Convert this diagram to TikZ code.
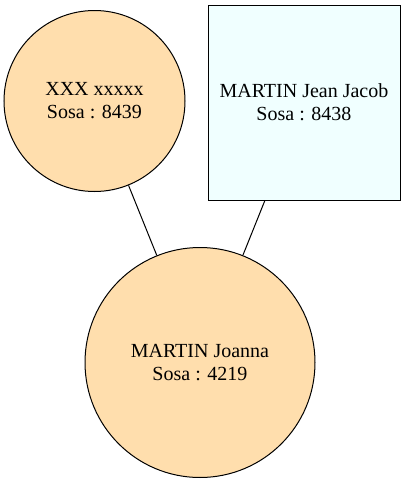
\documentclass[tikz,border=0pt]{standalone}
\usepackage{fontspec}
\setmainfont{Liberation Serif}
\definecolor{circfill}{RGB}{255,222,173}
\definecolor{boxfill}{RGB}{240,255,255}
\begin{document}
\begin{tikzpicture}[x=1pt,y=-1pt,
  person/.style={draw=black,line width=1pt,align=center,inner sep=0pt,
    font=\fontsize{20}{23}\selectfont},
  femme/.style={person,circle,fill=circfill},
  homme/.style={person,rectangle,fill=boxfill},
  link/.style={draw=black,line width=1pt}]
\useasboundingbox (0,0) rectangle (408,483);
\node[femme,minimum size=181pt] (a) at (94.5,101) {XXX xxxxx\\Sosa : 8439};
\node[homme,minimum width=192pt,minimum height=195pt] (b) at (304,102.5) {MARTIN Jean Jacob\\Sosa : 8438};
\node[femme,minimum size=230pt] (c) at (200,362.5) {MARTIN Joanna\\Sosa : 4219};
\draw[link] (a) -- (c);
\draw[link] (b) -- (c);
\end{tikzpicture}
\end{document}
